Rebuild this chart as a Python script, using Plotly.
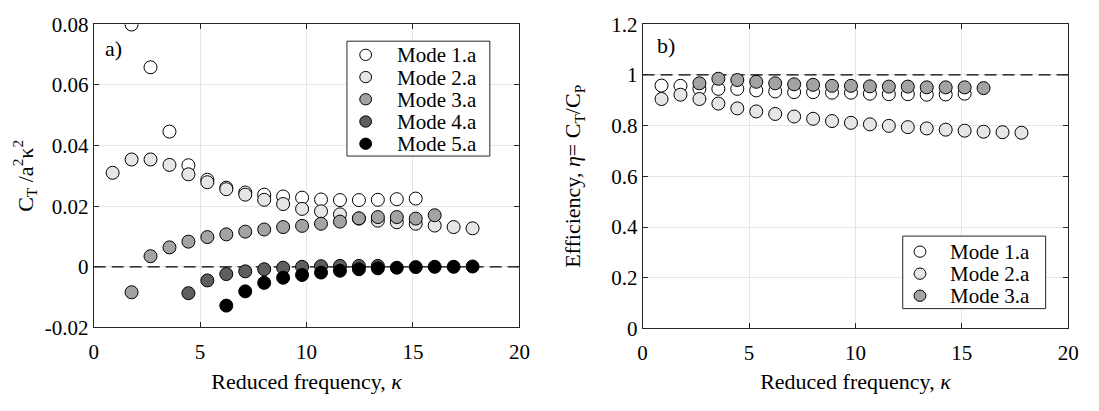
import plotly.graph_objects as go

kappa = [0.89, 1.78, 2.67, 3.56, 4.45, 5.34, 6.23, 7.12, 8.01, 8.90,
         9.79, 10.68, 11.57, 12.46, 13.35, 14.24, 15.13, 16.02, 16.91, 17.80]

# Panel a) thrust coefficient C_T / a^2 kappa^2
ct_mode1 = [0.0799, 0.0658, 0.0446, 0.0335, 0.0287, 0.0261, 0.0245, 0.0238, 0.0232,
            0.0228, 0.0222, 0.0220, 0.0220, 0.0221, 0.0223, 0.0225]          # kappa[1:17]
ct_mode2 = [0.0310, 0.0354, 0.0354, 0.0336, 0.0305, 0.0279, 0.0256, 0.0238, 0.0221, 0.0207,
            0.0191, 0.0183, 0.0173, 0.0159, 0.0152, 0.0147, 0.0142, 0.0136, 0.0131, 0.0127]
ct_mode3 = [-0.0084, 0.0035, 0.0064, 0.0083, 0.0098, 0.0107, 0.0116, 0.0123, 0.0131,
            0.0135, 0.0142, 0.0149, 0.0160, 0.0164, 0.0164, 0.0159, 0.0170]   # kappa[1:18]
ct_mode4 = [-0.0087, -0.0045, -0.0024, -0.0015, -0.0008, -0.0003, 0.0000, 0.0002,
            0.0003, 0.0003, 0.0003]                                           # kappa[4:15]
ct_mode5 = [-0.0128, -0.0081, -0.0053, -0.0036, -0.0027, -0.0019, -0.0013, -0.0008,
            -0.0005, -0.0003, -0.0001, 0.0000, 0.0000, 0.0001]               # kappa[6:20]

# Panel b) efficiency
eta_mode1 = [0.958, 0.957, 0.945, 0.945, 0.945, 0.939, 0.935, 0.932, 0.932, 0.930,
             0.930, 0.926, 0.924, 0.924, 0.922, 0.923, 0.926]                # kappa[0:17]
eta_mode2 = [0.905, 0.922, 0.905, 0.887, 0.868, 0.856, 0.846, 0.836, 0.827, 0.818,
             0.811, 0.805, 0.799, 0.794, 0.789, 0.784, 0.780, 0.776, 0.774, 0.772]
eta_mode3 = [0.967, 0.985, 0.980, 0.973, 0.967, 0.963, 0.961, 0.957, 0.957, 0.955,
             0.954, 0.954, 0.951, 0.951, 0.951, 0.948]                       # kappa[2:18]

names_a = ["Mode 1.a", "Mode 2.a", "Mode 3.a", "Mode 4.a", "Mode 5.a"]
names_b = ["Mode 1.a", "Mode 2.a", "Mode 3.a"]

x_range = [0, 20]
ref_a = 0.0      # zero-thrust reference
ref_b = 1.0      # unit-efficiency reference

x_ticks = [0, 5, 10, 15, 20]
ya_ticks = [-0.02, 0, 0.02, 0.04, 0.06, 0.08]
ya_text = ["-0.02", "0", "0.02", "0.04", "0.06", "0.08"]
yb_ticks = [0, 0.2, 0.4, 0.6, 0.8, 1.0, 1.2]
yb_text = ["0", "0.2", "0.4", "0.6", "0.8", "1", "1.2"]

colors = ["#ffffff", "#e6e6e6", "#a3a3a3", "#5e5e5e", "#000000"]
FONT = "Liberation Serif"
H = 411.0
W = 1099.0

fig = go.Figure()

# dashed reference lines (drawn first, under the markers)
for xa, ya, ref in (("x", "y", ref_a), ("x2", "y2", ref_b)):
    fig.add_trace(go.Scatter(x=x_range, y=[ref, ref], mode="lines", xaxis=xa, yaxis=ya,
                             showlegend=False, hoverinfo="skip",
                             line=dict(color="#000000", width=1.2, dash="12px,6px")))

def add(x, y, name, color, xa, ya):
    fig.add_trace(go.Scatter(
        x=x, y=y, mode="markers", name=name, xaxis=xa, yaxis=ya, showlegend=False,
        marker=dict(symbol="circle", size=13, color=color,
                    line=dict(color="#000000", width=1)),
    ))

add(kappa[1:17], ct_mode1, names_a[0], colors[0], "x", "y")
add(kappa[0:20], ct_mode2, names_a[1], colors[1], "x", "y")
add(kappa[1:18], ct_mode3, names_a[2], colors[2], "x", "y")
add(kappa[4:15], ct_mode4, names_a[3], colors[3], "x", "y")
add(kappa[6:20], ct_mode5, names_a[4], colors[4], "x", "y")

add(kappa[0:17], eta_mode1, names_b[0], colors[0], "x2", "y2")
add(kappa[0:20], eta_mode2, names_b[1], colors[1], "x2", "y2")
add(kappa[2:18], eta_mode3, names_b[2], colors[2], "x2", "y2")

shapes = []
annotations = [
    dict(text="a)", xref="x domain", yref="y domain", x=0.022, y=0.92,
         xanchor="left", yanchor="middle", showarrow=False, font=dict(size=22)),
    dict(text="b)", xref="x2 domain", yref="y2 domain", x=0.028, y=0.93,
         xanchor="left", yanchor="middle", showarrow=False, font=dict(size=22)),
]

# Legends (box, symbol, label) laid out in pixels
def legend_box(names, box, sym_x, text_x, y0, step):
    x_left, x_right, y_top, y_bot = box
    shapes.append(dict(type="rect", xref="paper", yref="paper",
                       x0=x_left / W, x1=x_right / W, y0=1 - y_bot / H, y1=1 - y_top / H,
                       line=dict(color="#262626", width=1), fillcolor="white", layer="above"))
    r = 6.0
    for i, nm in enumerate(names):
        yc = y0 + i * step
        shapes.append(dict(type="circle", xref="paper", yref="paper",
                           x0=(sym_x - r) / W, x1=(sym_x + r) / W,
                           y0=1 - (yc + r) / H, y1=1 - (yc - r) / H,
                           fillcolor=colors[i], line=dict(color="#000000", width=1),
                           layer="above"))
        annotations.append(dict(text=nm, xref="paper", yref="paper", x=text_x / W,
                                y=1 - (yc + 0.5) / H, xanchor="left", yanchor="middle",
                                borderpad=0, showarrow=False, font=dict(size=21)))

legend_box(names_a, (347, 492, 31, 153), 366, 397, 45.5, 23.6)
legend_box(names_b, (911, 1056, 238, 315), 928.5, 958, 254.5, 23.4)

axis_common = dict(
    showline=True, linecolor="#262626", linewidth=1, mirror="ticks",
    ticks="inside", ticklen=5, tickcolor="#262626",
    showgrid=True, gridcolor="#e6e6e6", gridwidth=1, zeroline=False,
    tickfont=dict(family=FONT, size=21, color="#000000"),
)

fig.update_layout(
    width=1099, height=411,
    margin=dict(l=0, r=0, t=0, b=0),
    paper_bgcolor="white", plot_bgcolor="white",
    font=dict(family=FONT, size=21, color="#000000"),
    showlegend=False,
    xaxis=dict(domain=[90 / W, 522 / W], range=x_range, tickvals=x_ticks, anchor="y",
               ticklabelstandoff=5,
               title=dict(text="Reduced frequency, <i>κ</i>", font=dict(size=22), standoff=10),
               **axis_common),
    yaxis=dict(domain=[1 - 335 / H, 1 - 13 / H], range=[-0.02, 0.08], tickvals=ya_ticks,
               ticktext=ya_text, anchor="x",
               title=dict(text="C<sub>T</sub> /a<sup>2</sup>κ<sup>2</sup>", font=dict(size=22), standoff=5),
               **axis_common),
    xaxis2=dict(domain=[647 / W, 1079 / W], range=x_range, tickvals=x_ticks, anchor="y2",
                ticklabelstandoff=5,
                title=dict(text="Reduced frequency, <i>κ</i>", font=dict(size=22), standoff=10),
                **axis_common),
    yaxis2=dict(domain=[1 - 336 / H, 1 - 13 / H], range=[0, 1.2], tickvals=yb_ticks,
                ticktext=yb_text, anchor="x2",
                title=dict(text="Efficiency, <i>η</i>= C<sub>T</sub>/C<sub>P</sub>", font=dict(size=22), standoff=24),
                **axis_common),
    shapes=shapes,
    annotations=annotations,
)

fig.write_html("out.html")
